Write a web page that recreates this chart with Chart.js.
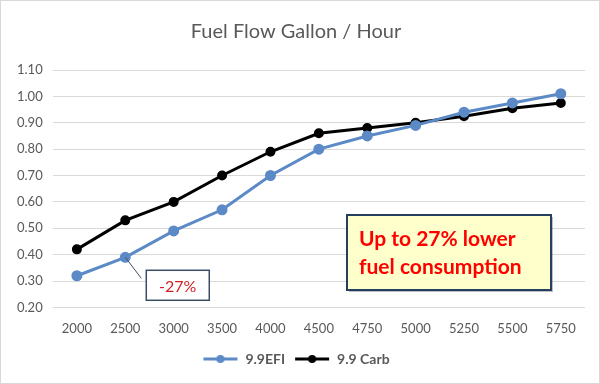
<!DOCTYPE html>
<html>
<head>
<meta charset="utf-8">
<script src="https://cdn.jsdelivr.net/npm/chart.js@4/dist/chart.umd.min.js"></script>
<style>
  body { margin: 0; background: #fff; }
  #wrap { width: 600px; height: 384px; box-sizing: border-box; border: 1px solid #d9d9d9; position: relative; }
</style>
</head>
<body>
<div id="wrap"><canvas id="fuelChart"></canvas></div>
<script>
// RPM categories and fuel flow values (gallon / hour)
const rpmLabels = ["2000", "2500", "3000", "3500", "4000", "4500", "4750", "5000", "5250", "5500", "5750"];
const efiFlow  = [0.32, 0.39, 0.49, 0.57, 0.70, 0.80, 0.85, 0.89, 0.94, 0.975, 1.01];
const carbFlow = [0.42, 0.53, 0.60, 0.70, 0.79, 0.86, 0.88, 0.90, 0.925, 0.955, 0.975];
const yTicks = [0.2, 1.1];

const efiColor = "#5b8ac6";
const carbColor = "#000000";
const textGray = "#595959";

// little line-with-dot icon for the legend, like the Excel one
function legendIcon(color) {
    const c = document.createElement("canvas");
    c.width = 36; c.height = 12;
    const g = c.getContext("2d");
    g.strokeStyle = color; g.lineWidth = 3;
    g.beginPath(); g.moveTo(1, 6); g.lineTo(35, 6); g.stroke();
    g.fillStyle = color;
    g.beginPath(); g.arc(18, 6, 4, 0, Math.PI * 2); g.fill();
    return c;
}

// callout boxes drawn on top of the chart
const calloutPlugin = {
    id: "callouts",
    afterDatasetsDraw(chart) {
        const ctx = chart.ctx;
        const area = chart.chartArea;
        const pt = chart.getDatasetMeta(0).data[1]; // EFI @ 2500

        ctx.save();
        // -27% label with leader line
        const bx = pt.x + 21, by = pt.y + 13, bw = 63, bh = 30;
        ctx.strokeStyle = "#3a4f66";
        ctx.lineWidth = 1;
        ctx.beginPath(); ctx.moveTo(pt.x, pt.y); ctx.lineTo(bx - 5, by + 8); ctx.stroke();
        ctx.fillStyle = "#ffffff";
        ctx.fillRect(bx, by, bw, bh);
        ctx.lineWidth = 1.5;
        ctx.strokeRect(bx, by, bw, bh);
        ctx.fillStyle = "#d02020";
        ctx.font = "16px Lato";
        ctx.textAlign = "center";
        ctx.textBaseline = "middle";
        ctx.fillText("-27%", bx + bw / 2, by + bh / 2 + 2);

        // yellow note box
        const nx = area.right - 238, ny = area.top + 145, nw = 204, nh = 75;
        ctx.fillStyle = "rgba(0,0,0,0.25)";
        ctx.fillRect(nx + 2, ny + 2, nw, nh);
        ctx.fillStyle = "#ffffcc";
        ctx.fillRect(nx, ny, nw, nh);
        ctx.strokeStyle = "#243f60";
        ctx.lineWidth = 2;
        ctx.strokeRect(nx, ny, nw, nh);
        ctx.fillStyle = "#ff0000";
        ctx.font = "bold 21px Lato";
        ctx.textAlign = "left";
        ctx.fillText("Up to 27% lower", nx + 12, ny + 24);
        ctx.fillText("fuel consumption", nx + 12, ny + 52);
        ctx.restore();
    }
};

const ctx = document.getElementById("fuelChart").getContext("2d");
const fuelChart = new Chart(ctx, {
    type: "line",
    data: {
        labels: rpmLabels,
        datasets: [
            {
                label: "9.9EFI",
                data: efiFlow,
                borderColor: efiColor,
                backgroundColor: efiColor,
                borderWidth: 3,
                pointRadius: 4,
                pointHoverRadius: 4
            },
            {
                label: "9.9 Carb",
                data: carbFlow,
                borderColor: carbColor,
                backgroundColor: carbColor,
                borderWidth: 3,
                pointRadius: 3.5,
                pointHoverRadius: 3.5
            }
        ]
    },
    options: {
        responsive: true,
        maintainAspectRatio: false,
        animation: false,
        layout: { padding: { left: 6, right: 14, top: 12, bottom: 7 } },
        plugins: {
            title: {
                display: true,
                text: "Fuel Flow Gallon / Hour",
                color: textGray,
                font: { family: "Lato", size: 20, weight: "normal" },
                padding: { top: 7, bottom: 26 }
            },
            legend: {
                position: "bottom",
                labels: {
                    color: textGray,
                    font: { family: "Lato", size: 14, weight: "bold" },
                    usePointStyle: true,
                    pointStyleWidth: 36,
                    padding: 9,
                    generateLabels(chart) {
                        return chart.data.datasets.map((ds, i) => ({
                            text: ds.label,
                            pointStyle: legendIcon(ds.borderColor),
                            fillStyle: ds.borderColor,
                            strokeStyle: ds.borderColor,
                            lineWidth: 0,
                            fontColor: textGray,
                            datasetIndex: i
                        }));
                    }
                }
            },
            tooltip: { enabled: false }
        },
        scales: {
            x: {
                offset: true,
                grid: { display: false },
                border: { display: false },
                ticks: { color: textGray, font: { family: "Lato", size: 13 }, padding: 6 }
            },
            y: {
                min: yTicks[0],
                max: yTicks[1],
                grid: { color: "#d9d9d9", drawTicks: false },
                border: { display: false },
                ticks: {
                    stepSize: 0.1,
                    color: textGray,
                    font: { family: "Lato", size: 13 },
                    padding: 10,
                    callback: v => v.toFixed(2)
                }
            }
        }
    },
    plugins: [calloutPlugin]
});
</script>
</body>
</html>
